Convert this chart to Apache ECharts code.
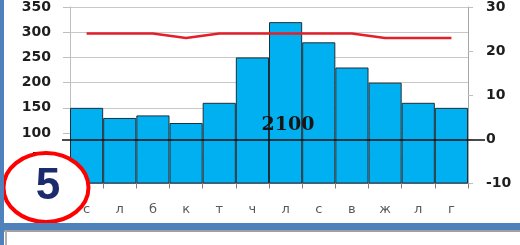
<!DOCTYPE html>
<html>
<head>
<meta charset="utf-8">
<script src="https://cdn.jsdelivr.net/npm/echarts@6/dist/echarts.min.js"></script>
<style>
html,body{margin:0;padding:0;background:#fff;}
#c{width:520px;height:245px;}
</style>
</head>
<body>
<div id="c"></div>
<script>
var months = ['с','л','б','к','т','ч','л','с','в','ж','л','г'];
var precipitation = [150,130,135,120,160,250,320,280,230,200,160,150];
var temperature = [24,24,24,23,24,24,24,24,24,23,23,23];
var leftTicks = {min:0, max:350, interval:50};
var rightTicks = {min:-10, max:30, interval:10};
var totalLabel = '2100';
var circleLabel = '5';

var chart = echarts.init(document.getElementById('c'), null, {renderer:'canvas'});
var axisFont = {fontFamily:'DejaVu Sans', fontWeight:'bold', fontSize:14, color:'#1e1e1e'};
chart.setOption({
  animation:false,
  backgroundColor:'#ffffff',
  grid:{left:70, right:52, top:4.3, bottom:61.5},
  xAxis:{
    type:'category', data:months, boundaryGap:true,
    axisLine:{show:true, lineStyle:{color:'#8c8c8c', width:1}},
    axisTick:{show:true, length:5, interval:0, lineStyle:{color:'#7f7f7f'}},
    axisLabel:{color:'#595959', fontSize:13, fontFamily:'DejaVu Sans', margin:20, interval:0},
    splitLine:{show:false}
  },
  yAxis:[{
    type:'value', min:leftTicks.min, max:leftTicks.max, interval:leftTicks.interval,
    axisLine:{show:true, lineStyle:{color:'#bfbfbf'}},
    axisTick:{show:true, length:7, lineStyle:{color:'#bfbfbf'}},
    axisLabel:Object.assign({margin:19}, axisFont),
    splitLine:{show:true, lineStyle:{color:'#c8c8c8', width:1}}
  },{
    type:'value', position:'right', min:rightTicks.min, max:rightTicks.max, interval:rightTicks.interval,
    axisLine:{show:true, lineStyle:{color:'#a6a6a6'}},
    axisTick:{show:true, length:5, lineStyle:{color:'#bfbfbf'}},
    axisLabel:Object.assign({margin:18}, axisFont),
    splitLine:{show:false}
  }],
  series:[{
    type:'bar', data:precipitation, yAxisIndex:0, barCategoryGap:'0%',
    itemStyle:{color:'#00b0f0', borderColor:'#1f2f3a', borderWidth:1},
    z:2
  },{
    type:'line', data:temperature, yAxisIndex:1, symbol:'none',
    lineStyle:{color:'#e3202a', width:2.5}, z:4
  }]
});

var y0 = chart.convertToPixel({yAxisIndex:1}, 0);
var xMid = (chart.convertToPixel({xAxisIndex:0}, 5) + chart.convertToPixel({xAxisIndex:0}, 6)) / 2;
chart.setOption({
  graphic:[
    {type:'line', z:10, shape:{x1:62, y1:y0+0.5, x2:485, y2:y0+0.5}, style:{stroke:'#111', lineWidth:1.5}},
    {type:'text', z:10, x:xMid+19, y:y0-14, style:{text:totalLabel, font:'bold 19px "DejaVu Serif"', fill:'#151515', textAlign:'center', textVerticalAlign:'middle'}},
    {type:'ellipse', z:20, shape:{cx:46, cy:187.5, rx:42.5, ry:34.5}, style:{fill:'#ffffff', stroke:'#ff0000', lineWidth:4}},
    {type:'text', z:21, x:48, y:187, style:{text:circleLabel, font:'bold 44px "Liberation Sans"', fill:'#1b2b6b', textAlign:'center', textVerticalAlign:'middle'}},
    {type:'rect', z:30, shape:{x:0, y:223, width:520, height:7}, style:{fill:'#4f81bd'}},
    {type:'rect', z:30, shape:{x:0, y:0, width:4, height:245}, style:{fill:'#4f81bd'}},
    {type:'line', z:30, shape:{x1:4, y1:231, x2:520, y2:231}, style:{stroke:'#a0a0a0', lineWidth:2}},
    {type:'line', z:30, shape:{x1:6, y1:231, x2:6, y2:245}, style:{stroke:'#b0b0b0', lineWidth:2}}
  ]
});
</script>
</body>
</html>
